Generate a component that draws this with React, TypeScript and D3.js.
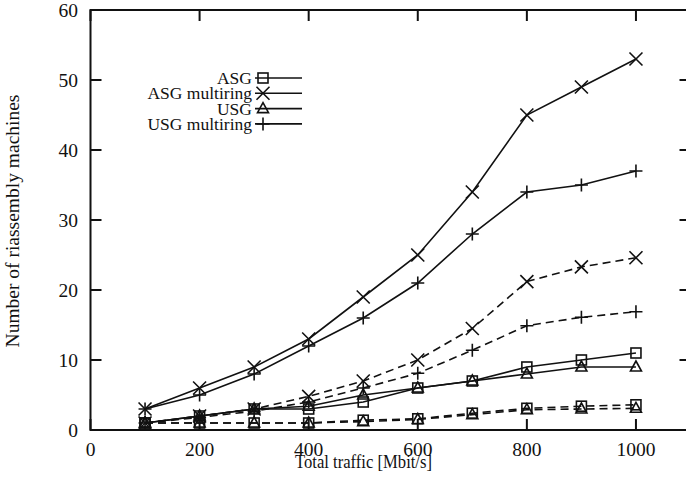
import React from "react";
import * as d3 from "d3";

// x values (Mbit/s)
const traffic = [100, 200, 300, 400, 500, 600, 700, 800, 900, 1000];

// solid curves
const asgSolid = [1, 2, 3, 3, 4, 6, 7, 9, 10, 11];
const asgMultiSolid = [3, 6, 9, 13, 19, 25, 34, 45, 49, 53];
const usgSolid = [1, 2, 3, 3.4, 5, 6, 7, 8, 9, 9];
const usgMultiSolid = [3, 5, 8, 12, 16, 21, 28, 34, 35, 37];

// dashed curves
const asgDashed = [1, 1, 1, 1, 1.4, 1.6, 2.4, 3.1, 3.4, 3.6];
const asgMultiDashed = [1, 2, 3, 4.8, 7, 10, 14.5, 21.2, 23.3, 24.6];
const usgDashed = [1, 1, 1, 1, 1.2, 1.5, 2.2, 2.9, 3.0, 3.1];
const usgMultiDashed = [1, 1.8, 2.7, 4, 6, 8.1, 11.4, 14.9, 16.1, 16.9];

const xTicks = [0, 200, 400, 600, 800, 1000];
const yTicks = [0, 10, 20, 30, 40, 50, 60];
const legendNames = ["ASG", "ASG multiring", "USG", "USG multiring"];
const legendMarks = ["square", "cross", "triangle", "plus"];

const W = 686;
const H = 483;
const FONT = "'Liberation Serif', 'Times New Roman', serif";
const INK = "#111";

const x = d3.scaleLinear().domain([0, 1100]).range([90.5, 690.5]);
const y = d3.scaleLinear().domain([0, 60]).range([430, 10]);

function Marker({ kind, cx, cy }: { kind: string; cx: number; cy: number }) {
  const s = 6.5;
  if (kind === "square")
    return <rect x={cx - 5} y={cy - 5} width={10} height={10} fill="none" stroke={INK} strokeWidth={1.6} />;
  if (kind === "cross")
    return (
      <path d={`M${cx - s},${cy - s}L${cx + s},${cy + s}M${cx - s},${cy + s}L${cx + s},${cy - s}`} stroke={INK} strokeWidth={1.6} />
    );
  if (kind === "triangle")
    return (
      <path d={`M${cx},${cy - 6}L${cx + 5.5},${cy + 4}L${cx - 5.5},${cy + 4}Z`} fill="none" stroke={INK} strokeWidth={1.6} />
    );
  return <path d={`M${cx - s},${cy}L${cx + s},${cy}M${cx},${cy - s}L${cx},${cy + s}`} stroke={INK} strokeWidth={1.6} />;
}

const series = [
  { vals: asgSolid, mark: "square", dash: null },
  { vals: asgMultiSolid, mark: "cross", dash: null },
  { vals: usgSolid, mark: "triangle", dash: null },
  { vals: usgMultiSolid, mark: "plus", dash: null },
  { vals: asgDashed, mark: "square", dash: "8,5" },
  { vals: asgMultiDashed, mark: "cross", dash: "8,5" },
  { vals: usgDashed, mark: "triangle", dash: "8,5" },
  { vals: usgMultiDashed, mark: "plus", dash: "8,5" },
];

export default function App() {
  const line = d3
    .line<number>()
    .x((_, i) => x(traffic[i]))
    .y((d) => y(d));
  const tk = 11;
  return (
    <svg width={W} height={H} style={{ position: "absolute", left: 0, top: 0, background: "#fff" }} fontFamily={FONT}>
      {/* frame */}
      <rect x={x(0)} y={y(60)} width={x(1100) - x(0)} height={y(0) - y(60)} fill="none" stroke={INK} strokeWidth={2} />
      {xTicks.map((t) => (
        <g key={"x" + t}>
          <line x1={x(t)} x2={x(t)} y1={y(0)} y2={y(0) - tk} stroke={INK} strokeWidth={2} />
          <line x1={x(t)} x2={x(t)} y1={y(60)} y2={y(60) + tk} stroke={INK} strokeWidth={2} />
          <text x={x(t)} y={456} textAnchor="middle" fontSize={19.5} fill={INK}>
            {t}
          </text>
        </g>
      ))}
      {yTicks.map((t) => (
        <g key={"y" + t}>
          <line x1={x(0)} x2={x(0) + tk} y1={y(t)} y2={y(t)} stroke={INK} strokeWidth={2} />
          <line x1={x(1100)} x2={x(1100) - tk} y1={y(t)} y2={y(t)} stroke={INK} strokeWidth={2} />
          <text x={78} y={y(t) + 6.5} textAnchor="end" fontSize={19.5} fill={INK}>
            {t}
          </text>
        </g>
      ))}
      <text x={295} y={468} textLength={137} lengthAdjust="spacingAndGlyphs" fontSize={18.5} fill={INK}>
        Total traffic [Mbit/s]
      </text>
      <text transform="translate(19,221) rotate(-90)" textAnchor="middle" fontSize={19.5} fill={INK}>
        Number of riassembly machines
      </text>

      {/* data */}
      {series.map((s, k) => (
        <g key={k}>
          <path d={line(s.vals) || ""} fill="none" stroke={INK} strokeWidth={1.6} strokeDasharray={s.dash || undefined} />
          {s.vals.map((v, i) => (
            <Marker key={i} kind={s.mark} cx={x(traffic[i])} cy={y(v)} />
          ))}
        </g>
      ))}

      {/* legend */}
      {legendNames.map((n, i) => {
        const ly = 78 + i * 15.3;
        return (
          <g key={n}>
            <text x={252} y={ly + 6} textAnchor="end" fontSize={17.5} fill={INK}>
              {n}
            </text>
            <line x1={255} x2={302} y1={ly} y2={ly} stroke={INK} strokeWidth={1.6} />
            <Marker kind={legendMarks[i]} cx={263} cy={ly} />
          </g>
        );
      })}
    </svg>
  );
}
